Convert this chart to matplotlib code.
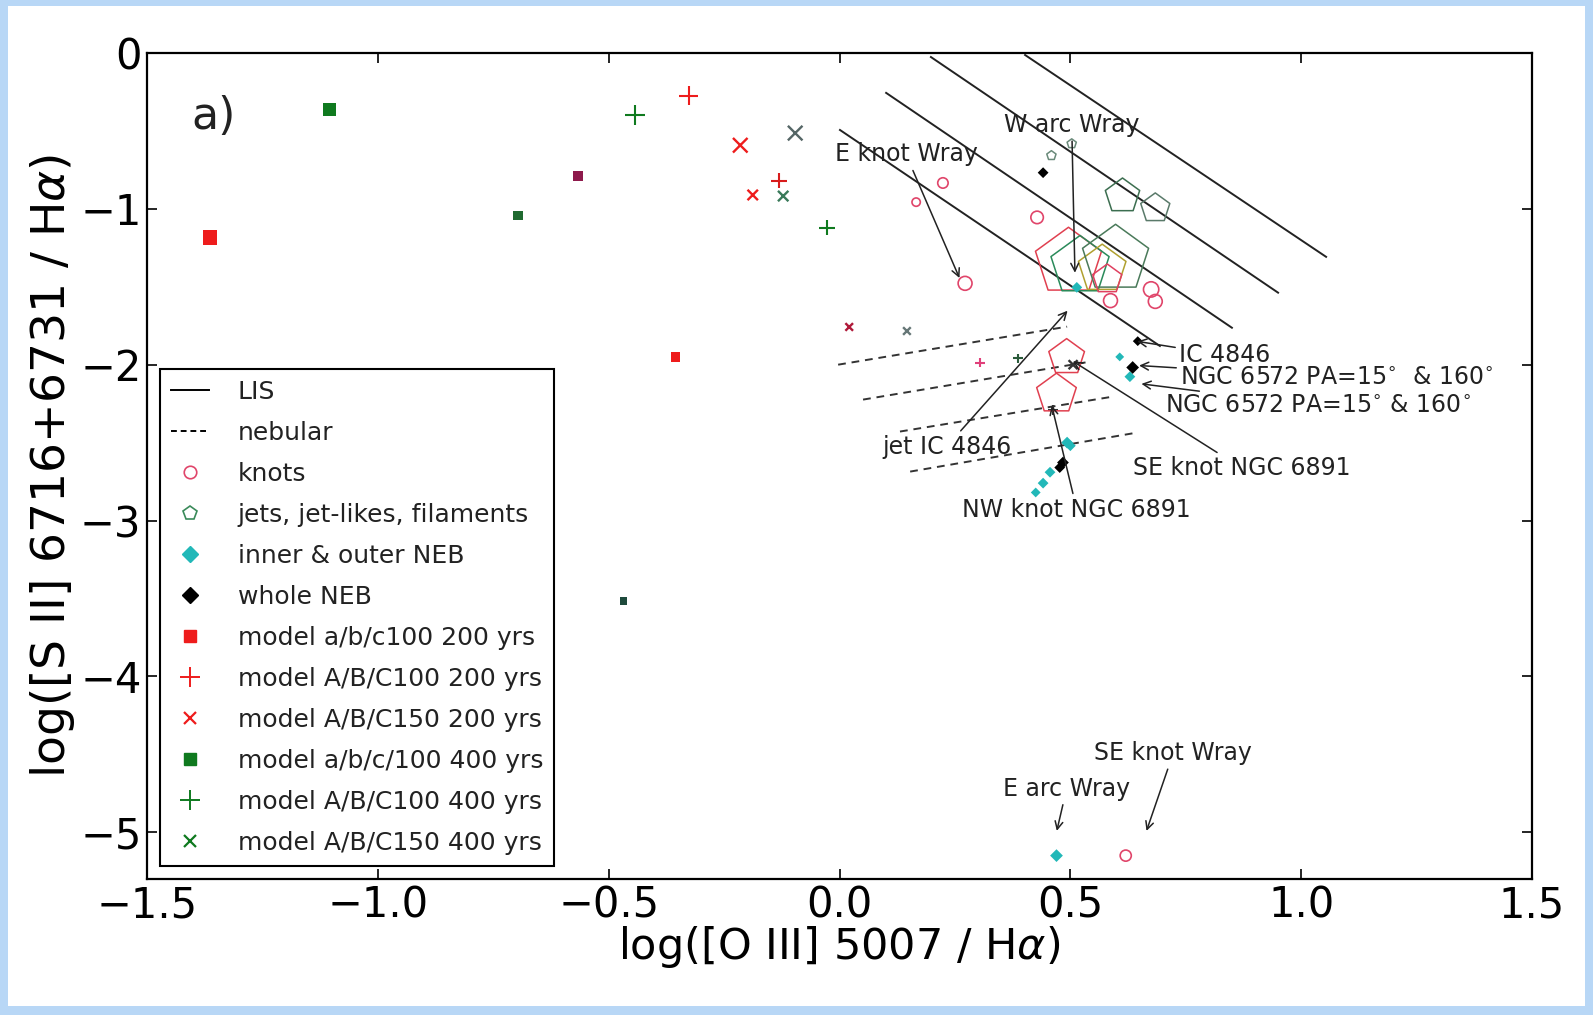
import matplotlib
matplotlib.use("Agg")
import matplotlib.pyplot as plt
from matplotlib.lines import Line2D
from matplotlib.patches import Rectangle

plt.rcParams["font.family"] = ["DejaVu Sans"]
plt.rcParams["mathtext.fontset"] = "dejavusans"

# ---- line ratio data: log([O III]/Ha), log([S II]/Ha) ----
# LIS tracks (solid), start/end of each segment
lis_x0 = [0.402, 0.198, 0.101, 0.001]
lis_y0 = [-0.013, -0.026, -0.256, -0.494]
lis_x1 = [1.054, 0.950, 0.850, 0.694]
lis_y1 = [-1.308, -1.538, -1.763, -1.880]

# nebular tracks (dashed)
neb_x0 = [-0.003, 0.051, 0.131, 0.153]
neb_y0 = [-2.000, -2.224, -2.429, -2.686]
neb_x1 = [0.493, 0.542, 0.592, 0.644]
neb_y1 = [-1.756, -1.981, -2.205, -2.436]

# observed objects
knots_x = [0.224, 0.166, 0.428, 0.272, 0.587, 0.675, 0.684, 0.620]
knots_y = [-0.834, -0.957, -1.055, -1.478, -1.589, -1.517, -1.594, -5.150]

jets_x = [0.459, 0.503, 0.613, 0.684, 0.496, 0.521, 0.569, 0.598, 0.580, 0.492, 0.470]
jets_y = [-0.658, -0.582, -0.918, -0.996, -1.341, -1.367, -1.387, -1.322, -1.452, -1.953, -2.188]

inner_x = [0.514, 0.607, 0.629, 0.493, 0.500, 0.456, 0.441, 0.425, 0.470]
inner_y = [-1.504, -1.950, -2.077, -2.500, -2.520, -2.690, -2.760, -2.820, -5.150]

whole_x = [0.441, 0.646, 0.635, 0.484, 0.477]
whole_y = [-0.768, -1.849, -2.018, -2.628, -2.660]

# shock models
sq200_x = [-1.364, -0.355, -0.567]
sq200_y = [-1.185, -1.953, -0.788]
plus200_x = [-0.327, -0.131, 0.305]
plus200_y = [-0.273, -0.820, -1.986]
cross200_x = [-0.215, -0.188, 0.021]
cross200_y = [-0.592, -0.911, -1.758]

sq400_x = [-1.104, -0.697, -0.468]
sq400_y = [-0.365, -1.042, -3.516]
plus400_x = [-0.443, -0.027, 0.386, 0.463]
plus400_y = [-0.397, -1.120, -1.960, -2.290]
cross400_x = [-0.096, -0.122, 0.146, 0.506]
cross400_y = [-0.514, -0.918, -1.784, -2.000]

# labels with arrows: text, text centre, arrow tip
notes = ["E knot Wray", "W arc Wray", "IC 4846",
         r"NGC 6572 PA=15$^{\circ}$  & 160$^{\circ}$",
         r"NGC 6572 PA=15$^{\circ}$ & 160$^{\circ}$",
         "jet IC 4846", "SE knot NGC 6891", "NW knot NGC 6891",
         "E arc Wray", "SE knot Wray"]
note_tx = [0.144, 0.503, 0.835, 1.078, 1.036, 0.232, 0.871, 0.514, 0.492, 0.723]
note_ty = [-0.651, -0.462, -1.940, -2.083, -2.266, -2.526, -2.663, -2.930, -4.720, -4.492]
note_px = [0.261, 0.510, 0.642, 0.646, 0.651, 0.496, 0.503, 0.459, 0.470, 0.664]
note_py = [-1.452, -1.419, -1.849, -2.005, -2.122, -1.647, -1.973, -2.253, -5.000, -5.000]

RED = "#ee1c1c"
GREEN = "#0f7a1f"
KNOT = "#e0456a"
CYAN = "#22b8b8"

fig = plt.figure(figsize=(15.93, 10.15), dpi=100)
fig.patch.set_facecolor("#b8d7f6")
fig.add_artist(Rectangle((8 / 1593, 9 / 1015), 1577 / 1593, 1000 / 1015,
                         transform=fig.transFigure, facecolor="white",
                         edgecolor="none", zorder=0))

ax = fig.add_axes([0.0923, 0.134, 0.8694, 0.8138])
ax.set_facecolor("white")

for x0, y0, x1, y1 in zip(lis_x0, lis_y0, lis_x1, lis_y1):
    ax.plot([x0, x1], [y0, y1], color="#222222", lw=1.4, zorder=2)
for x0, y0, x1, y1 in zip(neb_x0, neb_y0, neb_x1, neb_y1):
    ax.plot([x0, x1], [y0, y1], color="#333333", lw=1.4, ls=(0, (4, 3)), zorder=2)

# models
ax.scatter(sq200_x, sq200_y, marker="s", s=[10.5**2, 7**2, 7**2],
           c=[RED, RED, "#8e1a4c"], linewidths=0, zorder=4)
ax.scatter(sq400_x, sq400_y, marker="s", s=[9.5**2, 7**2, 5.5**2],
           c=[GREEN, "#1f6a30", "#1e4a3c"], linewidths=0, zorder=4)
ax.scatter(plus200_x, plus200_y, marker="+", s=[14**2, 11**2, 7**2],
           c=[RED, "#d81c1c", "#e0407a"], linewidths=1.5, zorder=4)
ax.scatter(plus400_x, plus400_y, marker="+", s=[14**2, 11**2, 7**2, 7.5**2],
           c=[GREEN, GREEN, "#2a5a3a", "#333333"], linewidths=1.5, zorder=4)
ax.scatter(cross200_x, cross200_y, marker="x", s=[10.5**2, 7.5**2, 5.5**2],
           c=[RED, RED, "#b01a3a"], linewidths=1.7, zorder=4)
ax.scatter(cross400_x, cross400_y, marker="x", s=[10.5**2, 7.5**2, 5.5**2, 6.5**2],
           c=["#556666", "#3a7a5a", "#667777", "#333333"], linewidths=1.7, zorder=4)

# observations
ax.scatter(knots_x, knots_y, marker="o",
           s=[7.5**2, 6**2, 9**2, 10**2, 10**2, 11**2, 10**2, 8**2],
           facecolors="none", edgecolors=KNOT, linewidths=1.2, zorder=5)
ax.scatter(jets_x, jets_y, marker="p",
           s=[7**2, 7**2, 26**2, 22**2, 50**2, 44**2, 36**2, 50**2, 22**2, 27**2, 30**2],
           facecolors="none",
           edgecolors=["#6a8a7a", "#6a8a7a", "#3c6e50", "#5a7a6a", "#e04050", "#2a8a5a",
                       "#b0a030", "#4a7a5a", "#e04060", "#e04050", "#e04050"],
           linewidths=1.1, zorder=5)
ax.scatter(inner_x, inner_y, marker="D", s=[5.5**2, 4.5**2, 5.5**2, 6**2, 5.5**2, 5.5**2, 5.5**2, 5**2, 6.5**2],
           c=CYAN, linewidths=0, zorder=6)
ax.scatter(whole_x, whole_y, marker="D", s=[5.5**2, 5**2, 6.5**2, 6**2, 5.5**2],
           c="black", linewidths=0, zorder=6)

for txt, tx, ty, px, py in zip(notes, note_tx, note_ty, note_px, note_py):
    ax.annotate(txt, xy=(px, py), xytext=(tx, ty), ha="center", va="center",
                fontsize=17, color="#222222", zorder=7,
                arrowprops=dict(arrowstyle="->", color="#222222", lw=1.1,
                                mutation_scale=14, shrinkA=1, shrinkB=1))

ax.text(-1.355, -0.41, "a)", fontsize=32, ha="center", va="center", color="#222222")

ax.set_xlim(-1.5, 1.5)
ax.set_ylim(-5.3, 0)
ax.set_xticks([-1.5, -1.0, -0.5, 0.0, 0.5, 1.0, 1.5])
ax.set_xticklabels(["\u22121.5", "\u22121.0", "\u22120.5", "0.0", "0.5", "1.0", "1.5"])
ax.set_yticks([0, -1, -2, -3, -4, -5])
ax.set_yticklabels(["0", "\u22121", "\u22122", "\u22123", "\u22124", "\u22125"])
ax.tick_params(direction="in", length=7, width=1.2, labelsize=30,
               top=True, right=True, pad=4)
for sp in ax.spines.values():
    sp.set_linewidth(1.6)
ax.set_xlabel(r"log([O III] 5007 / H$\alpha$)", fontsize=31, labelpad=-2)
ax.set_ylabel(r"log([S II] 6716+6731 / H$\alpha$)", fontsize=34, labelpad=2)

handles = [
    Line2D([], [], color="black", lw=1.4),
    Line2D([], [], color="black", lw=1.4, ls=(0, (3, 2))),
    Line2D([], [], ls="none", marker="o", ms=9, mfc="none", mec=KNOT, mew=1.2),
    Line2D([], [], ls="none", marker="p", ms=10, mfc="none", mec="#3a8a5a", mew=1.2),
    Line2D([], [], ls="none", marker="D", ms=8, color=CYAN),
    Line2D([], [], ls="none", marker="D", ms=8, color="black"),
    Line2D([], [], ls="none", marker="s", ms=8.5, color=RED),
    Line2D([], [], ls="none", marker="+", ms=14, mew=1.4, color=RED),
    Line2D([], [], ls="none", marker="x", ms=8.5, mew=1.6, color=RED),
    Line2D([], [], ls="none", marker="s", ms=8.5, color=GREEN),
    Line2D([], [], ls="none", marker="+", ms=14, mew=1.4, color=GREEN),
    Line2D([], [], ls="none", marker="x", ms=8.5, mew=1.6, color=GREEN),
]
labels = ["LIS", "nebular", "knots", "jets, jet-likes, filaments",
          "inner & outer NEB", "whole NEB", "model a/b/c100 200 yrs",
          "model A/B/C100 200 yrs", "model A/B/C150 200 yrs",
          "model a/b/c/100 400 yrs", "model A/B/C100 400 yrs",
          "model A/B/C150 400 yrs"]
leg = ax.legend(handles, labels, loc="lower left", bbox_to_anchor=(0.0094, 0.0157),
                borderaxespad=0, fontsize=18, handlelength=1.5, handletextpad=1.15,
                labelspacing=0.68, borderpad=0.45, fancybox=False, framealpha=1,
                edgecolor="black", numpoints=1)
leg.get_frame().set_linewidth(1.5)
for t in leg.get_texts():
    t.set_color("#222222")

fig.savefig("out.png", dpi=100, facecolor=fig.get_facecolor())
